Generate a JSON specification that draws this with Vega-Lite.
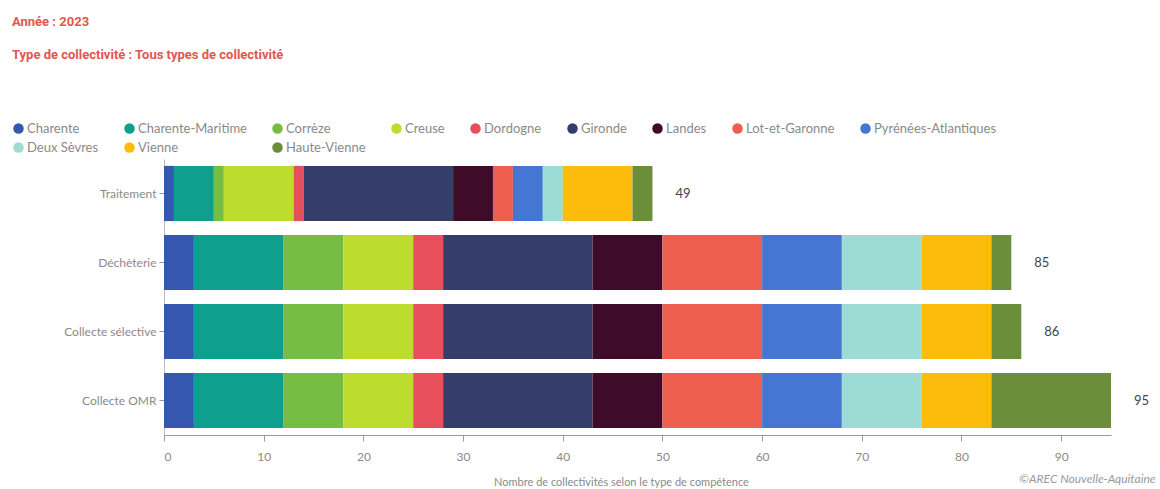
{
  "$schema": "https://vega.github.io/schema/vega-lite/v6.json",
  "autosize": {"type": "none"},
  "width": 947,
  "height": 276,
  "padding": {"left": 164, "top": 159, "right": 49, "bottom": 54},
  "background": "white",
  "config": {"view": {"stroke": null}},
  "title": {
    "text": "Année : 2023",
    "subtitle": "Type de collectivité : Tous types de collectivité",
    "anchor": "start",
    "frame": "group",
    "dx": -152,
    "offset": 60,
    "font": "Roboto",
    "fontSize": 13,
    "fontWeight": "bold",
    "color": "#e0574f",
    "subtitleFont": "Roboto",
    "subtitleFontSize": 13,
    "subtitleFontWeight": "bold",
    "subtitleColor": "#e0574f",
    "subtitlePadding": 20
  },
  "data": {
    "values": [
      {"competence": "Traitement", "departement": "Charente", "n": 1},
      {"competence": "Traitement", "departement": "Charente-Maritime", "n": 4},
      {"competence": "Traitement", "departement": "Corrèze", "n": 1},
      {"competence": "Traitement", "departement": "Creuse", "n": 7},
      {"competence": "Traitement", "departement": "Dordogne", "n": 1},
      {"competence": "Traitement", "departement": "Gironde", "n": 15},
      {"competence": "Traitement", "departement": "Landes", "n": 4},
      {"competence": "Traitement", "departement": "Lot-et-Garonne", "n": 2},
      {"competence": "Traitement", "departement": "Pyrénées-Atlantiques", "n": 3},
      {"competence": "Traitement", "departement": "Deux Sèvres", "n": 2},
      {"competence": "Traitement", "departement": "Vienne", "n": 7},
      {"competence": "Traitement", "departement": "Haute-Vienne", "n": 2},
      {"competence": "Déchèterie", "departement": "Charente", "n": 3},
      {"competence": "Déchèterie", "departement": "Charente-Maritime", "n": 9},
      {"competence": "Déchèterie", "departement": "Corrèze", "n": 6},
      {"competence": "Déchèterie", "departement": "Creuse", "n": 7},
      {"competence": "Déchèterie", "departement": "Dordogne", "n": 3},
      {"competence": "Déchèterie", "departement": "Gironde", "n": 15},
      {"competence": "Déchèterie", "departement": "Landes", "n": 7},
      {"competence": "Déchèterie", "departement": "Lot-et-Garonne", "n": 10},
      {"competence": "Déchèterie", "departement": "Pyrénées-Atlantiques", "n": 8},
      {"competence": "Déchèterie", "departement": "Deux Sèvres", "n": 8},
      {"competence": "Déchèterie", "departement": "Vienne", "n": 7},
      {"competence": "Déchèterie", "departement": "Haute-Vienne", "n": 2},
      {"competence": "Collecte sélective", "departement": "Charente", "n": 3},
      {"competence": "Collecte sélective", "departement": "Charente-Maritime", "n": 9},
      {"competence": "Collecte sélective", "departement": "Corrèze", "n": 6},
      {"competence": "Collecte sélective", "departement": "Creuse", "n": 7},
      {"competence": "Collecte sélective", "departement": "Dordogne", "n": 3},
      {"competence": "Collecte sélective", "departement": "Gironde", "n": 15},
      {"competence": "Collecte sélective", "departement": "Landes", "n": 7},
      {"competence": "Collecte sélective", "departement": "Lot-et-Garonne", "n": 10},
      {"competence": "Collecte sélective", "departement": "Pyrénées-Atlantiques", "n": 8},
      {"competence": "Collecte sélective", "departement": "Deux Sèvres", "n": 8},
      {"competence": "Collecte sélective", "departement": "Vienne", "n": 7},
      {"competence": "Collecte sélective", "departement": "Haute-Vienne", "n": 3},
      {"competence": "Collecte OMR", "departement": "Charente", "n": 3},
      {"competence": "Collecte OMR", "departement": "Charente-Maritime", "n": 9},
      {"competence": "Collecte OMR", "departement": "Corrèze", "n": 6},
      {"competence": "Collecte OMR", "departement": "Creuse", "n": 7},
      {"competence": "Collecte OMR", "departement": "Dordogne", "n": 3},
      {"competence": "Collecte OMR", "departement": "Gironde", "n": 15},
      {"competence": "Collecte OMR", "departement": "Landes", "n": 7},
      {"competence": "Collecte OMR", "departement": "Lot-et-Garonne", "n": 10},
      {"competence": "Collecte OMR", "departement": "Pyrénées-Atlantiques", "n": 8},
      {"competence": "Collecte OMR", "departement": "Deux Sèvres", "n": 8},
      {"competence": "Collecte OMR", "departement": "Vienne", "n": 7},
      {"competence": "Collecte OMR", "departement": "Haute-Vienne", "n": 12}
    ]
  },
  "resolve": {"axis": {"x": "independent"}},
  "layer": [
    {
      "transform": [
        {"calculate": "indexof(['Charente', 'Charente-Maritime', 'Corrèze', 'Creuse', 'Dordogne', 'Gironde', 'Landes', 'Lot-et-Garonne', 'Pyrénées-Atlantiques', 'Deux Sèvres', 'Vienne', 'Haute-Vienne'], datum.departement)", "as": "ordre"}
      ],
      "mark": {"type": "bar"},
      "encoding": {
        "y": {
          "field": "competence",
          "type": "nominal",
          "sort": ["Traitement", "Déchèterie", "Collecte sélective", "Collecte OMR"],
          "scale": {"paddingInner": 0.2, "paddingOuter": 0.1},
          "axis": {
            "title": null,
            "labelFont": "Lato",
            "labelFontSize": 12,
            "labelColor": "#8a8a8a",
            "tickColor": "#999",
            "tickSize": 5,
            "domainColor": "#bbb",
            "labelPadding": 3
          }
        },
        "x": {
          "field": "n",
          "type": "quantitative",
          "aggregate": "sum",
          "stack": "zero",
          "scale": {"domain": [0, 95], "nice": false},
          "axis": {
            "title": "Nombre de collectivités selon le type de compétence",
            "values": [0, 10, 20, 30, 40, 50, 60, 70, 80, 90],
            "grid": false,
            "labelFont": "Lato",
            "labelFontSize": 12,
            "labelColor": "#8a8a8a",
            "labelPadding": 10,
            "tickColor": "#999",
            "tickSize": 6,
            "domainColor": "#999",
            "titleFont": "Lato",
            "titleFontSize": 11,
            "titleFontWeight": "normal",
            "titleColor": "#8a8a8a",
            "titlePadding": 14,
            "titleX": 457
          }
        },
        "order": {"field": "ordre", "type": "quantitative", "sort": "ascending"},
        "color": {
          "field": "departement",
          "type": "nominal",
          "scale": {
            "domain": ["Charente", "Charente-Maritime", "Corrèze", "Creuse", "Dordogne", "Gironde", "Landes", "Lot-et-Garonne", "Pyrénées-Atlantiques", "Deux Sèvres", "Vienne", "Haute-Vienne"],
            "range": ["#3657b0", "#0e9f8e", "#76bd43", "#bcdc2e", "#e84f5c", "#353d6b", "#3e0b29", "#ee5f4f", "#4676d3", "#9ddbd5", "#fdbb0c", "#6b8e3b"]
          },
          "legend": {
            "title": null,
            "orient": "none",
            "legendX": -152,
            "legendY": -37,
            "direction": "horizontal",
            "columns": 9,
            "gridAlign": "none",
            "columnPadding": 24,
            "rowPadding": 5,
            "symbolType": "circle",
            "symbolSize": 110,
            "symbolStrokeWidth": 0,
            "symbolOpacity": 1,
            "labelFont": "Lato",
            "labelFontSize": 13,
            "labelColor": "#8a8a8a",
            "labelOffset": 2
          }
        }
      }
    },
    {
      "transform": [
        {"aggregate": [{"op": "sum", "field": "n", "as": "total"}], "groupby": ["competence"]}
      ],
      "mark": {"type": "text", "align": "left", "dx": 23, "font": "Lato", "fontSize": 13, "color": "#444"},
      "encoding": {
        "y": {"field": "competence", "type": "nominal", "sort": ["Traitement", "Déchèterie", "Collecte sélective", "Collecte OMR"]},
        "x": {
          "field": "total",
          "type": "quantitative",
          "axis": {
            "orient": "bottom",
            "labels": false,
            "ticks": false,
            "domain": false,
            "grid": false,
            "title": "©AREC Nouvelle-Aquitaine",
            "titleFont": "Lato",
            "titleFontSize": 12,
            "titleFontStyle": "italic",
            "titleFontWeight": "normal",
            "titleColor": "#999",
            "titleAnchor": "end",
            "titleAlign": "right",
            "titleX": 991,
            "titleY": 38
          }
        },
        "text": {"field": "total", "type": "quantitative"}
      }
    }
  ]
}
